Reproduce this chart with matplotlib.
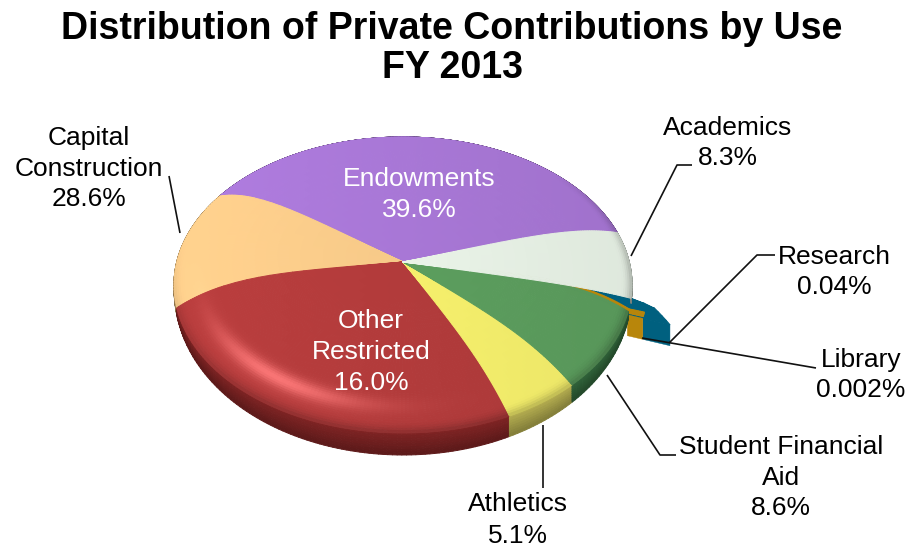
import numpy as np
import matplotlib
matplotlib.use("Agg")
import matplotlib.pyplot as plt
from matplotlib.collections import PolyCollection
from matplotlib.colors import to_rgb

# ---- data -------------------------------------------------------------
title_lines = ["Distribution of Private Contributions by Use", "FY 2013"]
categories = ["Endowments", "Capital Construction", "Other Restricted", "Athletics",
              "Student Financial Aid", "Library", "Research", "Academics"]
printed_labels = ["39.6%", "28.6%", "16.0%", "5.1%", "8.6%", "0.002%", "0.04%", "8.3%"]
# slice sizes as drawn in the picture (%), which differ from the printed labels
drawn_shares = [38.47, 13.06, 26.72, 4.86, 8.25, 0.28, 1.11, 7.25]

# ---- style ------------------------------------------------------------
top_colors = ["#A877D6", "#F6C988", "#B23B3B", "#F6F06C", "#5C9E5E", "#B8860B", "#00607F", "#EAF4E8"]
side_colors = ["#6A4A88", "#A88858", "#7A2222", "#ADA64C", "#2F6038", "#B8860B", "#00607F", "#A0A8A0"]
edge_lift = [8, 12, 14, 10, 11, 13, 13, 3, 8]   # dome bulge along each slice boundary, px
START = 12.1
CX, CY, RX, RY = 403.0, 285.0, 229.0, 148.0
A = (285.0 - 262.0) / 148.0    # perspective shift of the pie's centre
DEPTH = 22.0

fig = plt.figure(figsize=(9.07, 5.47), dpi=100)
ax = fig.add_axes([0, 0, 1, 1])
ax.set_xlim(0, 907)
ax.set_ylim(547, 0)
ax.axis("off")
plt.rcParams["font.family"] = ["Liberation Sans", "DejaVu Sans"]

shares = np.array(drawn_shares, float)
edges = START + np.concatenate([[0], np.cumsum(shares)]) / shares.sum() * 360.0


def bump(r):
    r = np.clip(r, 0, 1)
    return 1.87 * r * (1 - r ** 4)


def project(theta, r):
    th = np.radians(theta)
    x, y = r * np.cos(th), r * np.sin(th)
    den = 1 + A * y
    u = x * np.sqrt(1 - A ** 2) / den
    v = (y + A) / den
    lift = bump(r) * np.interp(theta, edges, edge_lift)
    return CX + RX * u, CY - RY * v - lift, v


def shade(base, theta, r):
    base = np.array(to_rgb(base))
    px, _, _ = project(theta, r)
    grad = 1 + 0.05 * (CX - px) / RX
    th = np.radians(theta)
    # the rim darkens only towards the viewer and on the right-hand side
    side_weight = np.clip(-np.sin(th) + 0.15, 0, 1) + 0.8 * np.clip(np.cos(th) - 0.75, 0, 1) / 0.25
    rim = np.clip((r - 0.955) / 0.045, 0, 1) ** 2 * np.clip(side_weight, 0, 1)
    col = base[None, :] * (grad * (1 - 0.22 * rim))[:, None]
    tw = (theta - 237 + 180) % 360 - 180
    spec = np.exp(-(tw / 24.0) ** 2) * np.exp(-((r - 0.90) / 0.035) ** 2)
    col = col + spec[:, None] * np.array([0.26, 0.22, 0.22])
    return np.clip(col, 0, 1)


def top_face(t0, t1, base, rout=None, zorder=3):
    ths = np.linspace(t0, t1, max(int(t1 - t0), 4) + 1)
    # radial grid: coarse inside, fine towards the rim
    fr = np.concatenate([np.linspace(0, 0.8, 17), np.linspace(0.8, 1.0, 25)[1:]])
    polys, cols_t, cols_r = [], [], []
    for a, b in zip(ths[:-1], ths[1:]):
        ra = 1.0 if rout is None else rout(a)
        rb = 1.0 if rout is None else rout(b)
        for f0, f1 in zip(fr[:-1], fr[1:]):
            T = np.array([a, b, b, a])
            R = np.array([f0 * ra, f0 * rb, f1 * rb, f1 * ra])
            X, Y, _ = project(T, R)
            polys.append(np.column_stack([X, Y]))
            cols_t.append((a + b) / 2)
            cols_r.append((f0 + f1) / 2 * (ra + rb) / 2)
    cols = shade(base, np.array(cols_t), np.array(cols_r)) if rout is None else [to_rgb(base)] * len(polys)
    pc = PolyCollection(polys, facecolors=cols, edgecolors=cols, linewidths=0.7, zorder=zorder)
    ax.add_collection(pc)


def side_face(t0, t1, base, zorder=2):
    ths = np.linspace(t0, t1, max(int(t1 - t0), 4) + 1)
    fr = np.linspace(0, 1, 9)
    base = np.array(to_rgb(base))
    polys, cols = [], []
    for a, b in zip(ths[:-1], ths[1:]):
        xa, ya, va = project(np.array([a]), np.array([1.0]))
        xb, yb, vb = project(np.array([b]), np.array([1.0]))
        da, db = DEPTH * max(-va[0], 0) ** 0.6, DEPTH * max(-vb[0], 0) ** 0.6
        for f0, f1 in zip(fr[:-1], fr[1:]):
            polys.append([(xa[0], ya[0] + f0 * da), (xb[0], yb[0] + f0 * db),
                          (xb[0], yb[0] + f1 * db), (xa[0], ya[0] + f1 * da)])
            cols.append(np.clip(base * (1.05 - 0.30 * (f0 + f1) / 2), 0, 1))
    ax.add_collection(PolyCollection(polys, facecolors=cols, edgecolors=cols, linewidths=0.7, zorder=zorder))


def radial_side(theta, r0, r1, color, drop=21.0, zorder=2):
    X, Y, _ = project(np.array([theta, theta]), np.array([r0, r1]))
    pts = [(X[0], Y[0]), (X[1], Y[1]), (X[1], Y[1] + drop), (X[0], Y[0] + drop)]
    ax.fill(*zip(*pts), color=color, lw=0.3, zorder=zorder)


# pulled-out slivers (Library and Research), behind the main slices
lib_i, res_i = categories.index("Library"), categories.index("Research")
res_low = edges[lib_i] - 1.2
res_high = edges[res_i + 1]
rout_fn = lambda t: float(np.interp(t, [res_low, res_high - 1.7, res_high], [1.178, 1.096, 1.0]))
top_face(res_low, res_high, top_colors[res_i], rout=rout_fn, zorder=1.2)
radial_side(res_low, 1.065, 1.178, side_colors[res_i], zorder=1.3)
top_face(edges[lib_i] - 0.6, edges[lib_i + 1], top_colors[lib_i],
         rout=lambda t: 1.065, zorder=1.4)
radial_side(res_low, 1.0, 1.065, side_colors[lib_i], zorder=1.5)

# main slices
for i, name in enumerate(categories):
    if i in (lib_i, res_i):
        continue
    t0, t1 = edges[i], edges[i + 1]
    side_face(t0, t1, side_colors[i], zorder=2)
    top_face(t0, t1, top_colors[i], zorder=3)

# leader lines
leaders = [
    ([169, 180], [176, 233]),
    ([692, 677, 631], [165, 165, 256]),
    ([775, 757, 669], [255, 255, 343]),
    ([642, 816], [338, 368]),
    ([676, 660, 607], [455, 455, 375]),
    ([543, 543], [425, 488]),
]
for xs, ys in leaders:
    ax.plot(xs, ys, color="#111111", lw=1.2, zorder=4, solid_capstyle="butt")

# text
FS = 19
for txt, y in zip(title_lines, [29, 68]):
    ax.text(452, y, txt, fontsize=27, fontweight="bold", ha="center", va="center", color="black")


def label(x, ys, lines, color="black"):
    for y, t in zip(ys, lines):
        ax.text(x, y, t, fontsize=FS, ha="center", va="center", color=color, zorder=6)


pct = dict(zip(categories, printed_labels))
label(89, [138, 169, 199], ["Capital", "Construction", pct["Capital Construction"]])
label(419, [179, 210], ["Endowments", pct["Endowments"]], "white")
label(728, [128, 158], ["Academics", pct["Academics"]])
label(834, [257, 287], ["Research", pct["Research"]])
label(861, [360, 390], ["Library", pct["Library"]])
label(781, [447, 478, 508], ["Student Financial", "Aid", pct["Student Financial Aid"]])
label(518, [504, 536], ["Athletics", pct["Athletics"]])
label(371, [321, 352, 383], ["Other", "Restricted", pct["Other Restricted"]], "white")

fig.savefig("out.png", dpi=100)
